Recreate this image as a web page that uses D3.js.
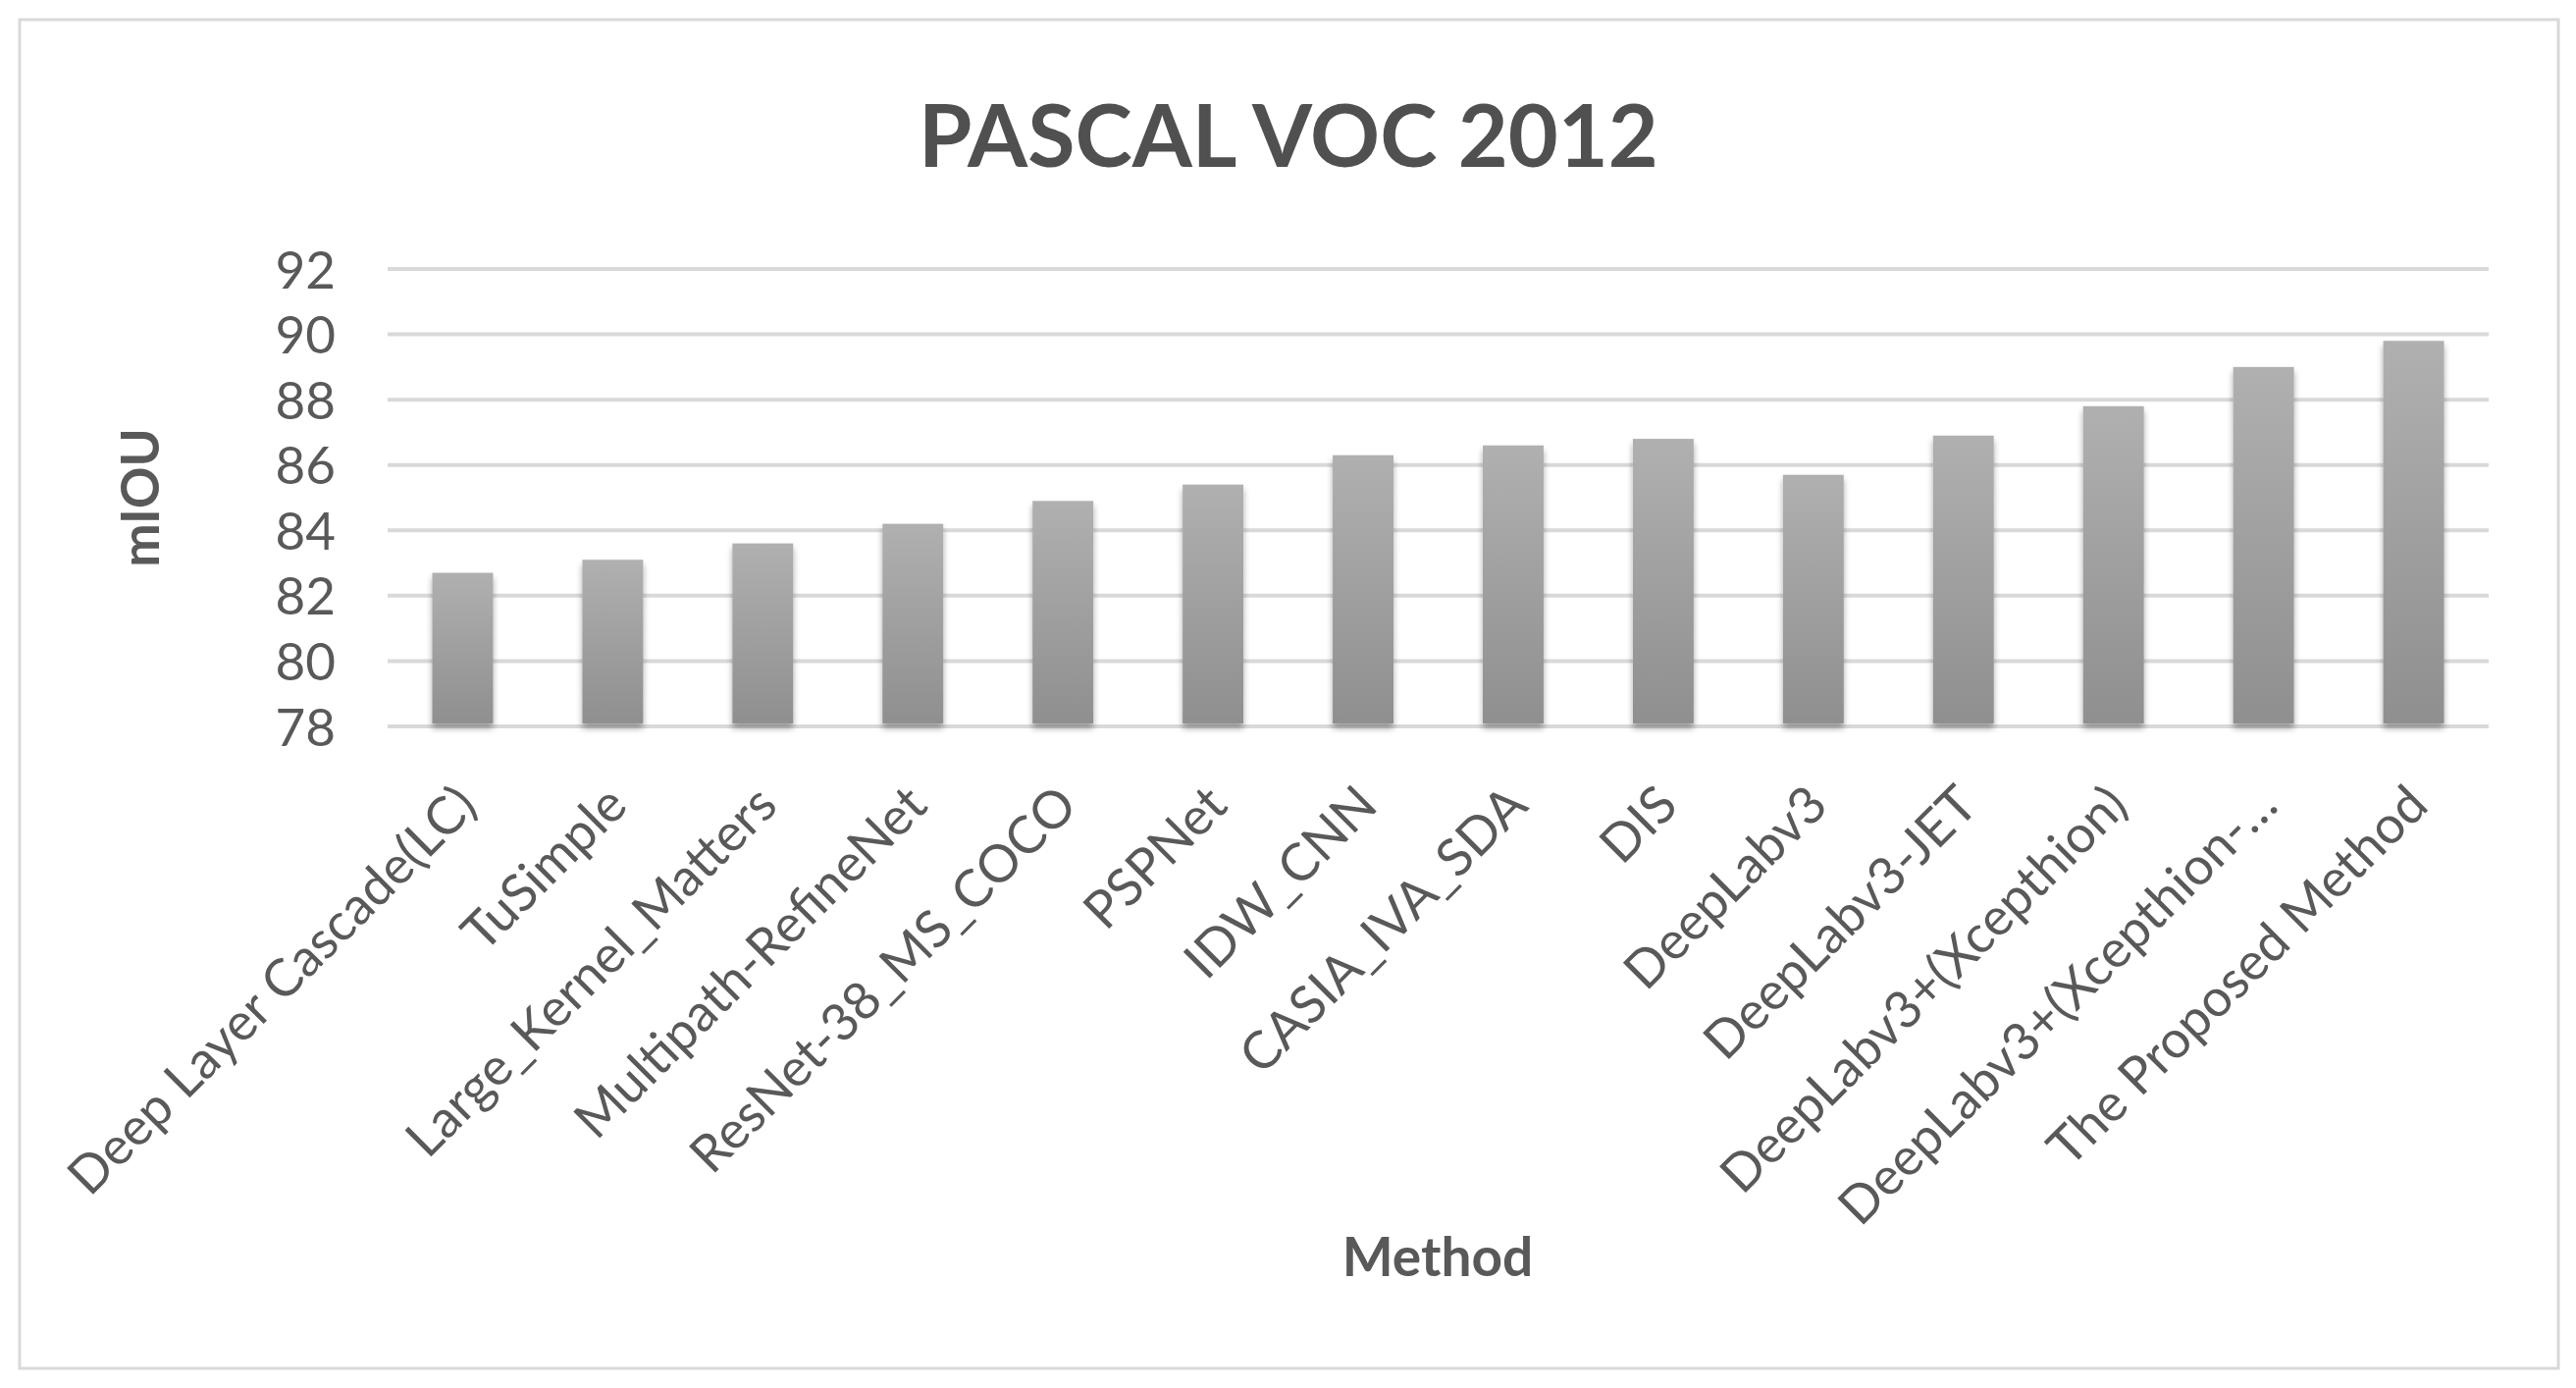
<!DOCTYPE html>
<html>
<head>
<meta charset="utf-8">
<script src="https://cdn.jsdelivr.net/npm/d3@7"></script>
<style>
  html, body { margin: 0; padding: 0; background: #ffffff; }
  svg { display: block; }
</style>
</head>
<body>
<script>
const categories = [
  "Deep Layer Cascade(LC)", "TuSimple", "Large_Kernel_Matters", "Multipath-RefineNet",
  "ResNet-38_MS_COCO", "PSPNet", "IDW_CNN", "CASIA_IVA_SDA", "DIS", "DeepLabv3",
  "DeepLabv3-JET", "DeepLabv3+(Xcepthion)", "DeepLabv3+(Xcepthion-…", "The Proposed Method"
];
const mIOU = [82.7, 83.1, 83.6, 84.2, 84.9, 85.4, 86.3, 86.6, 86.8, 85.7, 86.9, 87.8, 89.0, 89.8];
const yTicks = [78, 80, 82, 84, 86, 88, 90, 92];
const chartTitle = "PASCAL VOC 2012";
const xTitle = "Method";
const yTitle = "mIOU";

const W = 2625, H = 1414;
const plotLeft = 395, plotRight = 2536, plotTop = 274, plotBottom = 740;
const textColor = "#595959";
const font = "Lato, 'Open Sans', sans-serif";

const svg = d3.select("body").append("svg").attr("width", W).attr("height", H);

const defs = svg.append("defs");
const grad = defs.append("linearGradient").attr("id", "barGrad")
  .attr("x1", 0).attr("y1", 0).attr("x2", 0).attr("y2", 1);
grad.append("stop").attr("offset", "0%").attr("stop-color", "#b0b0b0");
grad.append("stop").attr("offset", "100%").attr("stop-color", "#8f8f8f");
const shadow = defs.append("filter").attr("id", "shadow")
  .attr("x", "-30%").attr("y", "-10%").attr("width", "160%").attr("height", "130%");
shadow.append("feDropShadow").attr("dx", 0).attr("dy", 5).attr("stdDeviation", 3)
  .attr("flood-color", "#000").attr("flood-opacity", 0.35);

// outer border
svg.append("rect").attr("x", 20).attr("y", 20).attr("width", 2587).attr("height", 1374)
  .attr("fill", "#fff").attr("stroke", "#d9d9d9").attr("stroke-width", 3);

const x = d3.scaleBand().domain(categories).range([plotLeft, plotRight])
  .paddingInner(0.595).paddingOuter(0.2975);
const y = d3.scaleLinear().domain([78, 92]).range([plotBottom, plotTop]);

// gridlines
svg.append("g").selectAll("line").data(yTicks).join("line")
  .attr("x1", plotLeft).attr("x2", plotRight)
  .attr("y1", d => y(d)).attr("y2", d => y(d))
  .attr("stroke", "#d9d9d9").attr("stroke-width", 4);

// y axis labels
const yAxis = svg.append("g").attr("transform", `translate(${plotLeft - 53},0)`)
  .call(d3.axisLeft(y).tickValues(yTicks).tickSize(0).tickPadding(0).tickFormat(d3.format("d")));
yAxis.select(".domain").remove();
yAxis.selectAll("text").attr("font-family", font).attr("font-size", 53)
  .attr("fill", textColor).attr("dy", "0.36em");

// bars
svg.append("g").selectAll("rect").data(mIOU).join("rect")
  .attr("x", (d, i) => x(categories[i]))
  .attr("width", x.bandwidth())
  .attr("y", d => y(d))
  .attr("height", d => y(78) - 3 - y(d))
  .attr("fill", "url(#barGrad)")
  .attr("filter", "url(#shadow)");

// x axis labels
const xAxis = svg.append("g").attr("transform", `translate(0,${plotBottom})`)
  .call(d3.axisBottom(x).tickSize(0).tickPadding(0));
xAxis.select(".domain").remove();
xAxis.selectAll(".tick text")
  .attr("font-family", font).attr("font-size", 53).attr("fill", textColor)
  .attr("text-anchor", "end")
  .attr("dy", "0.35em")
  .attr("transform", "translate(4,70) rotate(-45)");

// titles
svg.append("text").attr("x", 1313).attr("y", 170).attr("text-anchor", "middle")
  .attr("font-family", font).attr("font-weight", "bold").attr("font-size", 88)
  .attr("fill", "#505050").text(chartTitle);

svg.append("text").attr("x", 1465).attr("y", 1300).attr("text-anchor", "middle")
  .attr("font-family", font).attr("font-weight", "bold").attr("font-size", 55)
  .attr("fill", textColor).text(xTitle);

svg.append("text").attr("transform", "translate(162,507) rotate(-90)")
  .attr("text-anchor", "middle")
  .attr("font-family", font).attr("font-weight", "bold").attr("font-size", 53)
  .attr("fill", textColor).text(yTitle);
</script>
</body>
</html>
